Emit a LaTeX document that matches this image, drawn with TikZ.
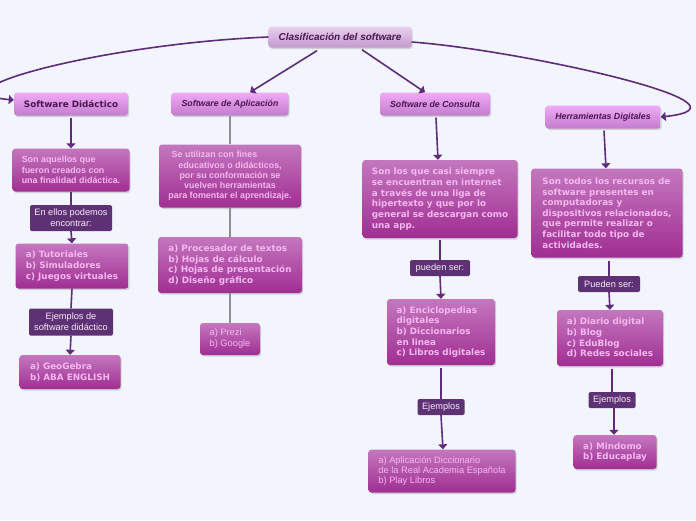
\documentclass[tikz,border=0pt]{standalone}
\usepackage{fontspec}
\newfontfamily\lsans{Liberation Sans}
\newfontfamily\dsans{DejaVu Sans}
\usetikzlibrary{arrows.meta,shadows}
\definecolor{bgc}{HTML}{F2F5FD}
\definecolor{lc}{HTML}{5E2C7A}
\definecolor{tA}{HTML}{F0AAF6}
\definecolor{tB}{HTML}{C47CCE}
\definecolor{tt}{HTML}{4A1650}
\definecolor{rA}{HTML}{E8D0EE}
\definecolor{rB}{HTML}{C49ACE}
\definecolor{dA}{HTML}{C477BE}
\definecolor{dB}{HTML}{A02E92}
\definecolor{dt}{HTML}{F5B8F0}
\definecolor{lbf}{HTML}{5E3175}
\definecolor{lbt}{HTML}{F4ECF8}
\definecolor{gl}{HTML}{8F8F8F}
\tikzset{
  shad/.style={drop shadow={opacity=0.3,shadow xshift=1.2pt,shadow yshift=-1.5pt}},
  ttl/.style={shad,rounded corners=3pt,top color=tA,bottom color=tB,text=tt,
    font=\lsans\bfseries\itshape\fontsize{8.8}{10}\selectfont,inner sep=0pt,minimum height=23pt},
  rootbox/.style={ttl,top color=rA,bottom color=rB,minimum height=21pt,
    font=\lsans\bfseries\itshape\fontsize{10}{11}\selectfont},
  desc/.style={shad,rounded corners=3pt,top color=dA,bottom color=dB,text=dt,inner sep=0pt},
  dfa/.style={font=\lsans\bfseries\fontsize{8.9}{10.5}\selectfont},
  dfb/.style={font=\dsans\bfseries\fontsize{8.8}{10.8}\selectfont},
  dfc/.style={font=\lsans\fontsize{9.3}{10}\selectfont},
  lbl/.style={fill=lbf,text=lbt,rounded corners=1.5pt,inner sep=0pt,align=center,
    font=\lsans\fontsize{9.2}{11}\selectfont},
  arr/.style={draw=lc,line width=1.6pt,-{Triangle[width=9pt,length=5pt]}},
  ln/.style={draw=lc,line width=1.6pt},
  gln/.style={draw=gl,line width=1.4pt},
}
\begin{document}
\begin{tikzpicture}[x=1pt,y=-1pt]
\fill[bgc] (0,0) rectangle (696,520);
\useasboundingbox (0,0) rectangle (696,520);
% titles
\node[rootbox,minimum width=143pt] (root) at (340,37) {Clasificación del software};
\node[ttl,minimum width=114pt,font=\dsans\bfseries\fontsize{8.8}{10}\selectfont] (did) at (71,104) {Software Didáctico};
\node[ttl,minimum width=117pt] (app) at (230,104) {Software de Aplicación};
\node[ttl,minimum width=110pt] (con) at (435,104) {Software de Consulta};
\node[ttl,minimum width=115pt] (her) at (603,117) {Herramientas Digitales};
% descriptions
\node[desc,dfa,align=left,minimum width=117pt,minimum height=43pt] (d1) at (71,170)
  {Son aquellos que\\fueron creados con\\una finalidad didáctica.};
\node[desc,align=center,minimum width=142pt,minimum height=63pt,font=\lsans\bfseries\fontsize{8.9}{10.2}\selectfont] (d2) at (230,176)
  {Se utilizan con fines\hspace*{31pt}\\educativos o didácticos,\\por su conformación se\\vuelven herramientas\\para fomentar el aprendizaje.};
\node[desc,dfb,align=left,minimum width=155pt,minimum height=78pt] (d3) at (440,199)
  {Son los que casi siempre\\se encuentran en internet\\a través de una liga de\\hipertexto y que por lo\\general se descargan como\\una app.};
\node[desc,dfb,align=left,minimum width=151pt,minimum height=89pt,font=\dsans\bfseries\fontsize{8.8}{10.6}\selectfont] (d4) at (607,213)
  {Son todos los recursos de\\software presentes en\\computadoras y\\dispositivos relacionados,\\que permite realizar o\\facilitar todo tipo de\\actividades.};
% labels
\node[lbl,minimum width=82pt,minimum height=26pt] (l1) at (71,218) {En ellos podemos\\encontrar:};
\node[lbl,minimum width=84pt,minimum height=27pt] (l2) at (71,322) {Ejemplos de\\software didáctico};
\node[lbl,minimum width=60pt,minimum height=16pt] (l3) at (440,268) {pueden ser:};
\node[lbl,minimum width=62pt,minimum height=16pt] (l4) at (609,284) {Pueden ser:};
\node[lbl,minimum width=47pt,minimum height=16pt] (l5) at (441,407) {Ejemplos};
\node[lbl,minimum width=47pt,minimum height=16pt] (l6) at (612,400) {Ejemplos};
% lists
\node[desc,dfb,align=left,minimum width=113pt,minimum height=45pt] (s1) at (72,266)
  {a) Tutoriales\\b) Simuladores\\c) Juegos virtuales};
\node[desc,dfb,align=left,minimum width=101pt,minimum height=34pt] (s2) at (70,372)
  {a) GeoGebra\\b) ABA ENGLISH};
\node[desc,dfb,align=left,minimum width=144pt,minimum height=56pt] (s3) at (230,265)
  {a) Procesador de textos\\b) Hojas de cálculo\\c) Hojas de presentación\\d) Diseño gráfico};
\node[desc,align=left,minimum width=60pt,minimum height=32pt,font=\lsans\fontsize{9.3}{11}\selectfont] (s4) at (230,339)
  {a) Prezi\\b) Google};
\node[desc,dfb,align=left,minimum width=108pt,minimum height=66pt,font=\dsans\bfseries\fontsize{8.8}{10.6}\selectfont] (s5) at (441,332)
  {a) Enciclopedias\\digitales\\b) Diccionarios\\en linea\\c) Libros digitales};
\node[desc,dfc,align=left,minimum width=147pt,minimum height=43pt] (s6) at (442,471)
  {a) Aplicación Diccionario\\de la Real Academia Española\\b) Play Libros};
\node[desc,dfb,align=left,minimum width=106pt,minimum height=56pt] (s7) at (610,338)
  {a) Diario digital\\b) Blog\\c) EduBlog\\d) Redes sociales};
\node[desc,dfb,align=left,minimum width=83pt,minimum height=34pt] (s8) at (615,452)
  {a) Mindomo\\b) Educaplay};
% connectors from root
\draw[arr] (root.west) .. controls (100,44) and (-75,92) .. ([yshift=4pt]did.west);
\draw[arr] ([xshift=-23pt,yshift=-3pt]root.south) -- ([xshift=20pt]app.north);
\draw[arr] ([xshift=22pt,yshift=-2pt]root.south) -- ([xshift=-10pt]con.north);
\draw[arr] ([yshift=-5pt]root.east) .. controls (520,50) and (770,105) .. (her.east);
% Didactico column
\draw[arr] ([yshift=-2pt]did.south) -- (d1.north);
\draw[ln] (d1.south) -- (l1.north);
\draw[arr] (l1.south) -- (s1.north);
\draw[ln] (s1.south) -- (l2.north);
\draw[arr] (l2.south) -- (s2.north);
% Aplicacion column
\draw[gln] (app.south) -- (d2.north);
\draw[gln] (d2.south) -- (s3.north);
\draw[gln] (s3.south) -- (s4.north);
% Consulta column
\draw[arr] ([xshift=1pt,yshift=-2pt]con.south) -- ([xshift=-2pt]d3.north);
\draw[ln] ([yshift=-2pt]d3.south) -- (l3.north);
\draw[arr] (l3.south) -- (s5.north);
\draw[ln] ([yshift=-3pt]s5.south) -- (l5.north);
\draw[arr] (l5.south) -- ([xshift=1pt]s6.north);
% Herramientas column
\draw[arr] ([xshift=1pt,yshift=-2pt]her.south) -- ([xshift=-1pt]d4.north);
\draw[ln] ([xshift=2pt,yshift=-3pt]d4.south) -- (l4.north);
\draw[arr] (l4.south) -- (s7.north);
\draw[ln] ([xshift=2pt,yshift=-3pt]s7.south) -- (l6.north);
\draw[arr] ([xshift=2pt]l6.south) -- ([xshift=-1pt]s8.north);
\end{tikzpicture}
\end{document}
